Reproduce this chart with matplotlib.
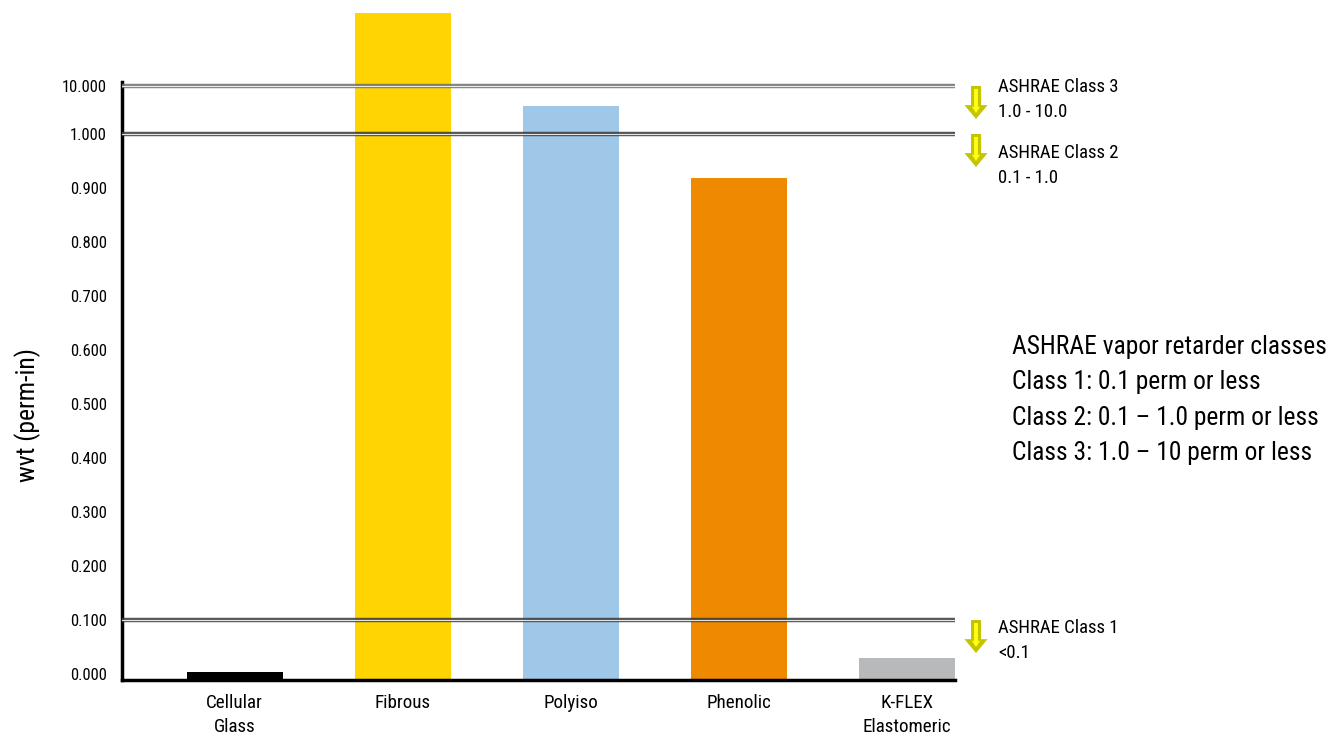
import numpy as np
import matplotlib
matplotlib.use("Agg")
import matplotlib.pyplot as plt
from matplotlib import transforms

plt.rcParams['font.family'] = ['Liberation Sans Narrow', 'Roboto Condensed', 'DejaVu Sans']

materials = ["Cellular\nGlass", "Fibrous", "Polyiso", "Phenolic", "K-FLEX\nElastomeric"]
wvt = [0.004, 330.0, 3.8, 0.918, 0.03]
colors = ["#000000", "#FFD400", "#9FC8E8", "#EF8A00", "#B8B9BB"]

tick_vals = [0.0, 0.1, 0.2, 0.3, 0.4, 0.5, 0.6, 0.7, 0.8, 0.9, 1.0, 10.0]
tick_text = ["0.000", "0.100", "0.200", "0.300", "0.400", "0.500",
             "0.600", "0.700", "0.800", "0.900", "1.000", "10.000"]

class_limits = [10.0, 1.0, 0.1]
class_names = ["ASHRAE Class 3", "ASHRAE Class 2", "ASHRAE Class 1"]
class_ranges = ["1.0 - 10.0", "0.1 - 1.0", "<0.1"]

notes = ["ASHRAE vapor retarder classes",
         "Class 1: 0.1 perm or less",
         "Class 2: 0.1 \u2013 1.0 perm or less",
         "Class 3: 1.0 \u2013 10 perm or less"]

# linear up to 1, then compressed log above 1
K = 0.0889

def fwd(v):
    v = np.asarray(v, dtype=float)
    return np.where(v <= 1, v, 1 + K * np.log10(np.clip(v, 1, None)))

def inv(u):
    u = np.asarray(u, dtype=float)
    return np.where(u <= 1, u, 10 ** ((np.clip(u, 1, None) - 1) / K))

fig = plt.figure(figsize=(13.34, 7.36), dpi=100)
ax = fig.add_axes([122/1334, 56/736, (955-122)/1334, (680-82)/736])
ax.set_yscale('function', functions=(fwd, inv))

ymin, ymax = -0.011, 12.1
x = np.arange(len(materials))
ax.bar(x, np.array(wvt) - ymin, bottom=ymin, width=0.57, color=colors,
       clip_on=False, zorder=2)

ax.set_xlim(-0.67, 4.285)
ax.set_ylim(ymin, ymax)

# double lines at class limits
for lim in class_limits:
    c = "#6f6f6f" if lim == 10.0 else "#3a3a3a"
    ax.axhline(lim, color=c, lw=3.2, alpha=0.85, zorder=3)
    ax.axhline(lim, color="white", lw=0.8, alpha=0.85, zorder=4)

ax.set_yticks(tick_vals)
ax.set_yticklabels(tick_text, fontsize=12)
ax.set_xticks(x)
ax.set_xticklabels(materials, fontsize=13.7, linespacing=1.45)
ax.tick_params(length=0)
ax.tick_params(axis='y', pad=11)
ax.tick_params(axis='x', pad=10)

for s in ["top", "right"]:
    ax.spines[s].set_visible(False)
ax.spines["left"].set_linewidth(2.5)
ax.spines["bottom"].set_linewidth(2.5)

trans = transforms.blended_transform_factory(ax.transAxes, ax.transData)

def shifted(dy_px):
    return trans + transforms.ScaledTranslation(0, dy_px / 100, fig.dpi_scale_trans)

ax_px = 955 - 122
arrow_x = (976 - 122) / ax_px
text_x = (998 - 122) / ax_px
text_top = [8, -10, 1]   # px above the limit line

for lim, name, rng, top in zip(class_limits, class_names, class_ranges, text_top):
    # outer olive arrow
    ax.annotate("", xy=(arrow_x, lim), xycoords=shifted(-33),
                xytext=(arrow_x, lim), textcoords=trans,
                arrowprops=dict(arrowstyle="simple,head_width=1.66,head_length=1.0,tail_width=0.72",
                                fc="#C4C400", ec="none", mutation_scale=10,
                                shrinkA=0, shrinkB=0),
                annotation_clip=False)
    # inner bright yellow highlight
    ax.annotate("", xy=(arrow_x, lim), xycoords=shifted(-27),
                xytext=(arrow_x, lim), textcoords=shifted(-3),
                arrowprops=dict(arrowstyle="simple,head_width=0.6,head_length=0.45,tail_width=0.28",
                                fc="#FFFF10", ec="none", mutation_scale=10,
                                shrinkA=0, shrinkB=0),
                annotation_clip=False)
    ax.text(text_x, lim, name + "\n" + rng, transform=shifted(top),
            ha="left", va="top", fontsize=13.5, linespacing=1.5)

for i, line in enumerate(notes):
    fig.text(1012/1334, 1 - (347 + 35.3*i)/736, line, fontsize=18.4,
             ha="left", va="center")

fig.text(28/1334, 1 - 415/736, "wvt (perm-in)", rotation=90, fontsize=18.5,
         ha="center", va="center")

fig.savefig("out.png", dpi=100)
